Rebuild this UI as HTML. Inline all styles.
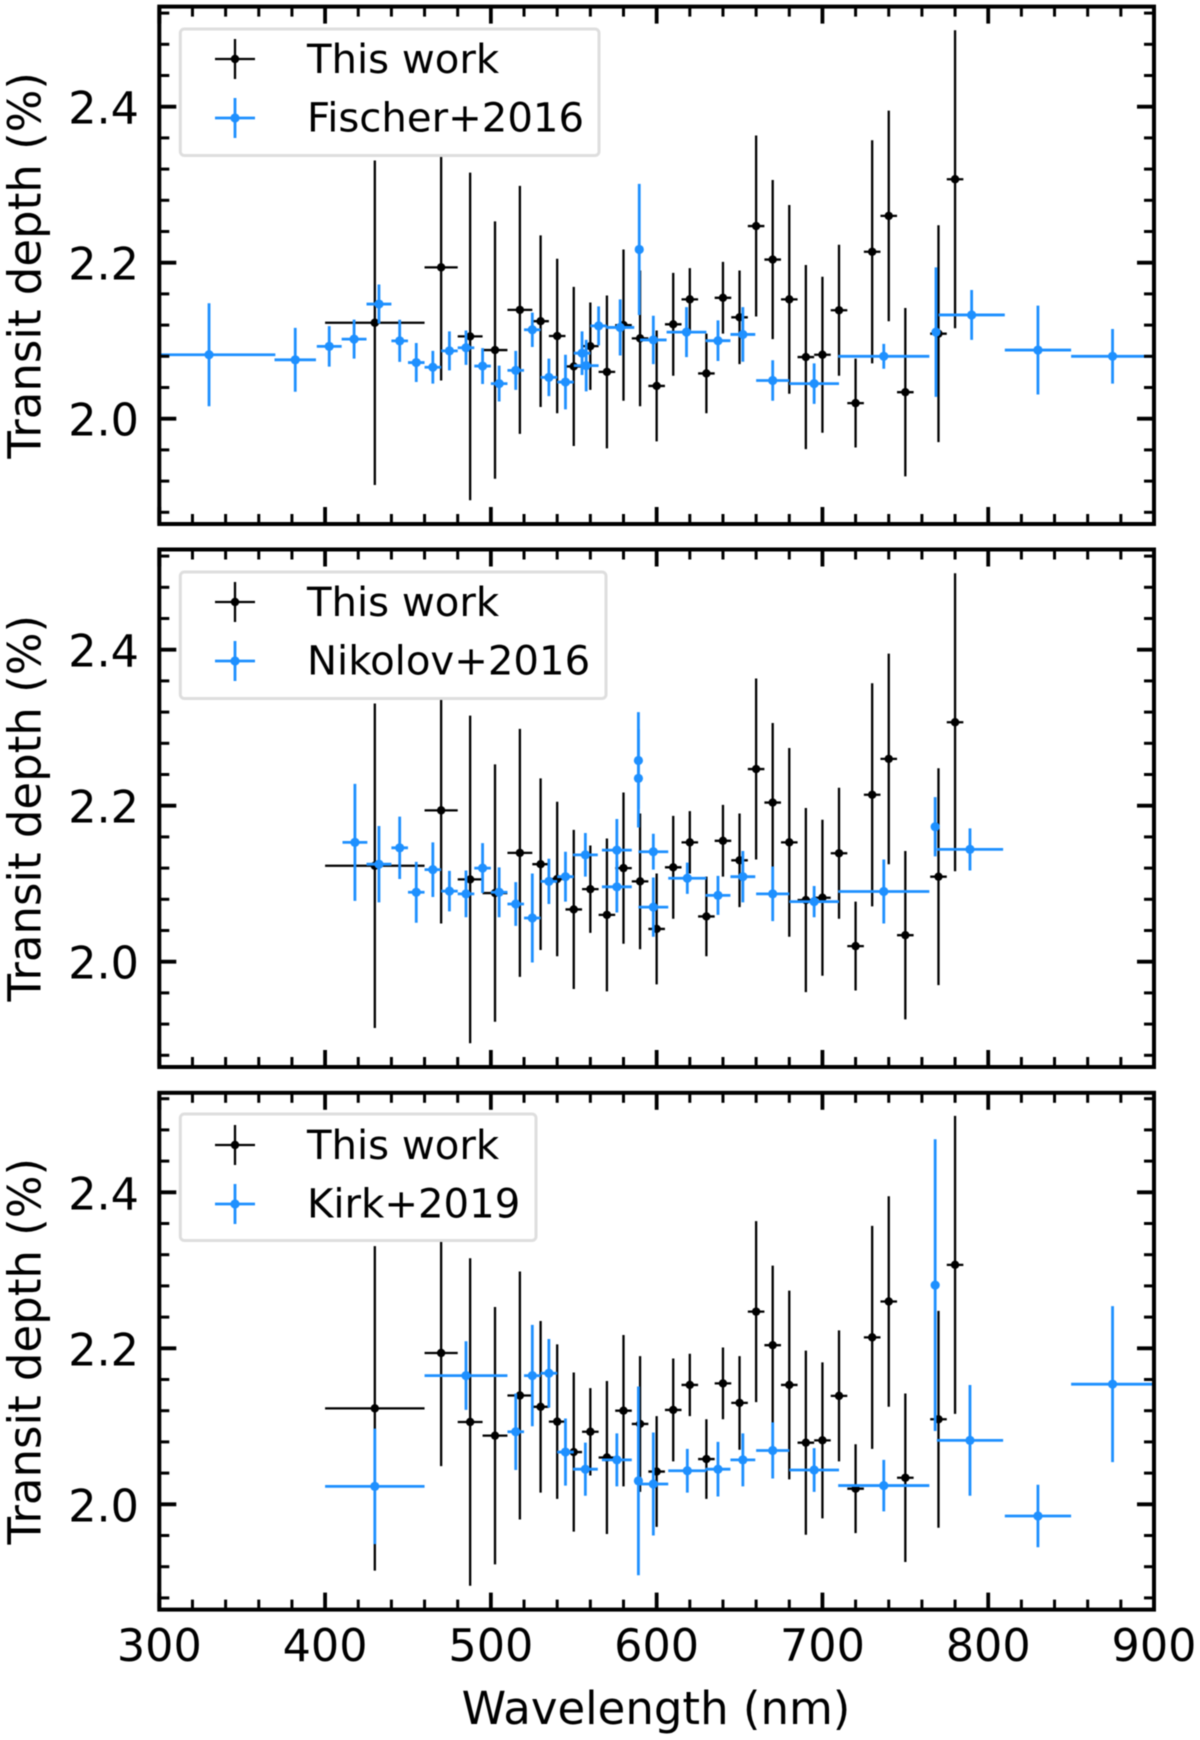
<!DOCTYPE html>
<html>
<head>
<meta charset="utf-8">
<title>Transit depth comparison</title>
<style>
html,body{margin:0;padding:0;background:#fff;width:1200px;height:1740px;overflow:hidden}
svg{display:block;filter:blur(0.45px)}
text{font-family:"DejaVu Sans","Liberation Sans",sans-serif;fill:#000}
</style>
</head>
<body>
<svg id="chart" xmlns="http://www.w3.org/2000/svg" width="1200" height="1740" viewBox="0 0 1200 1740"></svg>
<script>
const thisWorkWave = [430,470,487.5,502.5,517.5,530,540,550,560,570,580,590,600,610,620,630,640,650,660,670,680,690,700,710,720,730,740,750,770,780];
const thisWorkWaveErr = [30,10,7.5,7.5,7.5,5,5,5,5,5,5,5,5,5,5,5,5,5,5,5,5,5,5,5,5,5,5,5,5,5];
const thisWorkDepth = [2.123,2.194,2.1055,2.088,2.1395,2.125,2.106,2.067,2.093,2.06,2.12,2.103,2.042,2.121,2.153,2.058,2.155,2.13,2.247,2.204,2.153,2.079,2.082,2.139,2.02,2.214,2.26,2.034,2.109,2.307];
const thisWorkDepthErr = [0.208,0.145,0.21,0.165,0.159,0.11,0.099,0.102,0.056,0.098,0.097,0.087,0.071,0.066,0.04,0.051,0.046,0.06,0.116,0.102,0.121,0.118,0.1,0.084,0.057,0.143,0.135,0.108,0.139,0.191];

const fischerWave = [330,382,402.5,417.5,432.5,445,455,465,475,485,495,505,515,525,535,545,555,557.5,565,578,589.5,598,618,637,652,670,695,737,768.5,790,830,875];
const fischerWaveErr = [40,12.5,7.5,7.5,7.5,5,5,5,5,5,5,5,5,5,5,5,5,7.5,5,8.5,0,8,12,7.5,7.5,10,15,27.5,0,20,20,25];
const fischerDepth = [2.082,2.0755,2.0927,2.102,2.147,2.0998,2.072,2.066,2.087,2.091,2.0675,2.045,2.062,2.114,2.053,2.047,2.084,2.068,2.119,2.117,2.217,2.101,2.111,2.1,2.108,2.049,2.045,2.08,2.111,2.133,2.088,2.08];
const fischerDepthErr = [0.066,0.041,0.026,0.025,0.025,0.027,0.025,0.021,0.025,0.022,0.023,0.023,0.025,0.022,0.024,0.035,0.028,0.033,0.025,0.036,0.084,0.031,0.032,0.026,0.035,0.026,0.026,0.016,0.083,0.032,0.057,0.035];

const nikolovWave = [418,432.5,445,455,465,475,485,495,505,515,525,535,545,557,576,576,589,589,598,598,618.5,637,652,670,695,737,768,789];
const nikolovWaveErr = [7.5,7.5,5,5,5,5,5,5,5,5,5,5,5,7.5,9,9,0,0,9,9,11.5,7.5,7.5,10,15,27.5,0,20];
const nikolovDepth = [2.153,2.125,2.146,2.089,2.118,2.0905,2.087,2.12,2.089,2.074,2.056,2.103,2.109,2.137,2.143,2.096,2.258,2.235,2.141,2.07,2.107,2.085,2.109,2.087,2.077,2.09,2.173,2.144];
const nikolovDepthErr = [0.075,0.049,0.04,0.039,0.035,0.026,0.03,0.032,0.032,0.028,0.057,0.029,0.032,0.028,0.04,0.033,0.062,0.063,0.023,0.038,0.02,0.025,0.033,0.035,0.02,0.041,0.038,0.027];

const kirkWave = [430,485,515,525,535,545,557,576,589,598,618.5,637,652,670,695,737,768,789,830,875];
const kirkWaveErr = [30,25,5,5,5,5,7.5,9,0,9,11.5,7.5,7.5,10,15,27.5,0,20,20,25];
const kirkDepth = [2.023,2.165,2.093,2.165,2.168,2.067,2.045,2.057,2.03,2.026,2.043,2.045,2.057,2.069,2.044,2.024,2.281,2.082,1.985,2.154];
const kirkDepthErr = [0.074,0.044,0.049,0.065,0.044,0.043,0.034,0.034,0.121,0.066,0.028,0.035,0.034,0.036,0.028,0.033,0.187,0.071,0.04,0.1];

const xTickLabels = ["300","400","500","600","700","800","900"];
const yTickLabels = ["2.0","2.2","2.4"];
const seriesLabelThisWork = "This work";
const comparisonLabels = ["Fischer+2016","Nikolov+2016","Kirk+2019"];
const xAxisTitle = "Wavelength (nm)";
const yAxisTitle = "Transit depth (%)";

const NS = "http://www.w3.org/2000/svg";
const svg = document.getElementById("chart");
const BLUE = "#1e90ff";
const xMin = 300, xMax = 900, yMin = 1.865, pxPerUnit = 780;
const plotLeft = 159.3, plotRight = 1154;

function make(tag, attrs, parent) {
  const el = document.createElementNS(NS, tag);
  for (const k in attrs) el.setAttribute(k, attrs[k]);
  parent.appendChild(el);
  return el;
}
function xScale(v) { return plotLeft + (v - xMin) / (xMax - xMin) * (plotRight - plotLeft); }

const comparisons = [
  {wave: fischerWave, waveErr: fischerWaveErr, depth: fischerDepth, depthErr: fischerDepthErr},
  {wave: nikolovWave, waveErr: nikolovWaveErr, depth: nikolovDepth, depthErr: nikolovDepthErr},
  {wave: kirkWave, waveErr: kirkWaveErr, depth: kirkDepth, depthErr: kirkDepthErr}
];
const panelFrames = [
  {top: 6.6, bottom: 524, legendRight: 599, legendTop: 29, legendBottom: 155.5, row1: 59, row2: 118, base1: 73, base2: 131.5},
  {top: 549.5, bottom: 1067, legendRight: 606, legendTop: 572, legendBottom: 698.5, row1: 602, row2: 661, base1: 616, base2: 674.5},
  {top: 1092.8, bottom: 1609.6, legendRight: 536, legendTop: 1114, legendBottom: 1240.5, row1: 1145, row2: 1204, base1: 1159, base2: 1217.5}
];

function drawSeries(group, data, yScale, color, width, radius, seriesName) {
  for (let i = 0; i < data.wave.length; i++) {
    const cx = xScale(data.wave[i]);
    const cy = yScale(data.depth[i]);
    const g = make("g", {}, group);
    
    
    make("line", {x1: cx, x2: cx, y1: yScale(data.depth[i] + data.depthErr[i]), y2: yScale(data.depth[i] - data.depthErr[i]), stroke: color, "stroke-width": width}, g);
    if (data.waveErr[i] > 0) {
      make("line", {x1: xScale(data.wave[i] - data.waveErr[i]), x2: xScale(data.wave[i] + data.waveErr[i]), y1: cy, y2: cy, stroke: color, "stroke-width": width}, g);
    }
    make("circle", {cx: cx, cy: cy, r: radius, fill: color}, g);
  }
}

function drawTick(group, x1, y1, x2, y2, w) {
  make("line", {x1: x1, y1: y1, x2: x2, y2: y2, stroke: "#000", "stroke-width": w}, group);
}

panelFrames.forEach(function (frame, idx) {
  const yScale = function (v) { return frame.bottom - (v - yMin) * pxPerUnit; };
  const panel = make("g", {}, svg);
  
  

  const clipId = "clip" + idx;
  const clip = make("clipPath", {id: clipId}, panel);
  make("rect", {x: plotLeft, y: frame.top, width: plotRight - plotLeft, height: frame.bottom - frame.top}, clip);

  const plot = make("g", {"clip-path": "url(#" + clipId + ")"}, panel);
  
  
  drawSeries(plot, {wave: thisWorkWave, waveErr: thisWorkWaveErr, depth: thisWorkDepth, depthErr: thisWorkDepthErr}, yScale, "#000", 2.3, 4.2, "this-work");
  drawSeries(plot, comparisons[idx], yScale, BLUE, 2.8, 4.6, "comparison");

  // ticks
  const ticks = make("g", {}, panel);
  
  
  for (let v = xMin; v <= xMax; v += 20) {
    const major = (v % 100 === 0);
    const len = major ? 17 : 10;
    const x = xScale(v);
    drawTick(ticks, x, frame.bottom, x, frame.bottom - len, major ? 3.8 : 3);
    drawTick(ticks, x, frame.top, x, frame.top + len, major ? 3.8 : 3);
  }
  for (let n = 47; n <= 66; n++) {
    const v = n * 0.04;
    const major = (n % 5 === 0);
    const len = major ? 17 : 10;
    const y = yScale(v);
    if (y < frame.top || y > frame.bottom) continue;
    drawTick(ticks, plotLeft, y, plotLeft + len, y, major ? 3.8 : 3);
    drawTick(ticks, plotRight, y, plotRight - len, y, major ? 3.8 : 3);
  }

  // spines
  const frameRect = make("rect", {x: plotLeft, y: frame.top, width: plotRight - plotLeft, height: frame.bottom - frame.top, fill: "none", stroke: "#000", "stroke-width": 4}, panel);
  
  

  // y tick labels
  yTickLabels.forEach(function (label) {
    const t = make("text", {x: 139, y: yScale(parseFloat(label)) + 17, "text-anchor": "end", "font-size": 44.5}, panel);
    
    
    t.textContent = label;
  });

  // y axis title
  const yCenter = (frame.top + frame.bottom) / 2;
  const yt = make("text", {x: 40.5, y: yCenter, "text-anchor": "middle", "font-size": 45, transform: "rotate(-90 40.5 " + yCenter + ")"}, panel);
  
  
  yt.textContent = yAxisTitle;

  // legend
  const legend = make("g", {}, panel);
  
  
  make("rect", {x: 180.3, y: frame.legendTop, width: frame.legendRight - 180.3, height: frame.legendBottom - frame.legendTop, rx: 4, ry: 4, fill: "#fff", stroke: "#dedede", "stroke-width": 3}, legend);

  [[frame.row1, frame.base1, "#000", seriesLabelThisWork, 'legend-entry-this-work', 2.3, 4.2],
   [frame.row2, frame.base2, BLUE, comparisonLabels[idx], 'legend-entry-comparison', 2.8, 4.6]].forEach(function (row) {
    const entry = make("g", {}, legend);
    
    
    make("line", {x1: 215, x2: 255, y1: row[0], y2: row[0], stroke: row[2], "stroke-width": row[5]}, entry);
    make("line", {x1: 235, x2: 235, y1: row[0] - 20, y2: row[0] + 20, stroke: row[2], "stroke-width": row[5]}, entry);
    make("circle", {cx: 235, cy: row[0], r: row[6], fill: row[2]}, entry);
    const lt = make("text", {x: 307, y: row[1], "font-size": 40.2}, entry);
    lt.textContent = row[3];
  });

  // x tick labels on the bottom panel only
  if (idx === panelFrames.length - 1) {
    xTickLabels.forEach(function (label) {
      const t = make("text", {x: xScale(parseFloat(label)), y: 1661, "text-anchor": "middle", "font-size": 44.5}, panel);
      
      
      t.textContent = label;
    });
    const xt = make("text", {x: 656, y: 1724, "text-anchor": "middle", "font-size": 45}, panel);
    
    
    xt.textContent = xAxisTitle;
  }
});
</script>
</body>
</html>
